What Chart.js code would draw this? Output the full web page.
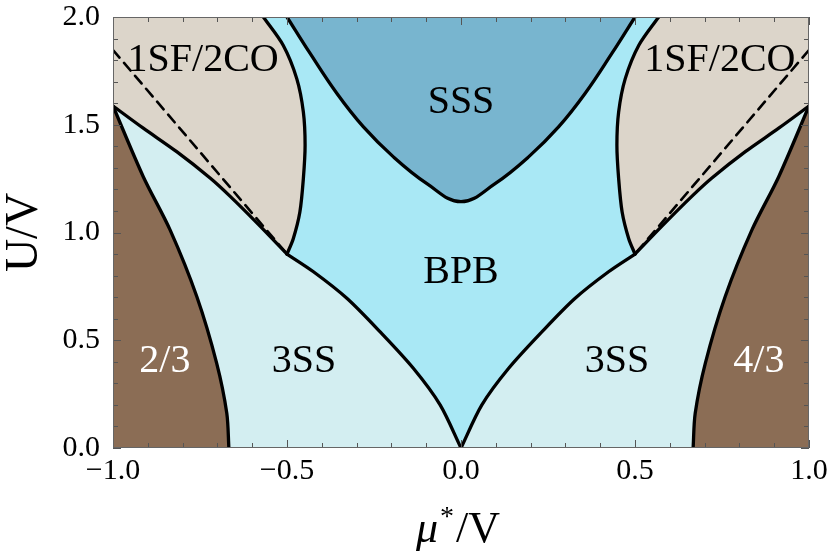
<!DOCTYPE html>
<html>
<head>
<meta charset="utf-8">
<script src="https://cdn.jsdelivr.net/npm/chart.js@4.4.1/dist/chart.umd.min.js"></script>
<style>
  body { margin: 0; background: #fff; }
  canvas { display: block; }
</style>
</head>
<body>
<canvas id="phaseChart" width="830" height="554"></canvas>
<script>
// Axis ticks
const xTicks = [-1.0, -0.5, 0.0, 0.5, 1.0];
const xTickLabels = ["\u22121.0", "\u22120.5", "0.0", "0.5", "1.0"];
const yTicks = [0.0, 0.5, 1.0, 1.5, 2.0];
const yTickLabels = ["0.0", "0.5", "1.0", "1.5", "2.0"];

// Phase boundaries, left half (mu*/V, U/V); diagram is symmetric in mu
// 2/3 solid edge: from the corner down to U = 0
const brownMu = [-1.0, -0.913, -0.836, -0.759, -0.702, -0.673, -0.667];
const brownU = [1.587, 1.259, 1.012, 0.702, 0.393, 0.161, 0.0];
// 3SS / 1SF line: corner to triple point
const edgeMu = [-1.0, -0.913, -0.817, -0.721, -0.664, -0.583, -0.5];
const edgeU = [1.587, 1.484, 1.375, 1.253, 1.169, 1.039, 0.9];
// dashed line
const dashMu = [-1.0, -0.5];
const dashU = [1.847, 0.9];
// 1SF / BPB: triple point up to the top
const sfMu = [-0.5, -0.482, -0.463, -0.453, -0.448, -0.453, -0.472, -0.511, -0.568];
const sfU = [0.9, 0.971, 1.095, 1.25, 1.405, 1.559, 1.714, 1.869, 2.0];
// BPB / 3SS: triple point down to the cusp
const bpbMu = [-0.5, -0.424, -0.328, -0.233, -0.137, -0.06, 0.0];
const bpbU = [0.9, 0.818, 0.695, 0.54, 0.37, 0.2, 0.0];
// SSS: top down to the minimum
const sssMu = [-0.5, -0.434, -0.357, -0.281, -0.195, -0.099, 0.0];
const sssU = [2.0, 1.832, 1.646, 1.491, 1.352, 1.228, 1.143];

// Region names
const regionNames = ["1SF/2CO", "1SF/2CO", "SSS", "BPB", "3SS", "3SS", "2/3", "4/3"];
const regionMu = [-0.741, 0.744, 0.0, 0.0, -0.451, 0.448, -0.851, 0.856];
const regionU = [1.81, 1.81, 1.615, 0.826, 0.413, 0.413, 0.413, 0.413];

const colors = {
  brown: "#8b6d55",
  sf: "#dcd5ca",
  three: "#d3eef1",
  bpb: "#a9e8f5",
  sss: "#78b5cf",
};
const serif = "'Liberation Serif', 'DejaVu Serif', serif";

const pts = (mu, u) => mu.map((m, i) => ({ x: m, y: u[i] }));
const mirror = (p) => p.map((q) => ({ x: -q.x, y: q.y }));

const brownL = pts(brownMu, brownU);
const edgeL = pts(edgeMu, edgeU);
const dashL = pts(dashMu, dashU);
const sfL = pts(sfMu, sfU);
const bpbL = pts(bpbMu, bpbU);
const sssL = pts(sssMu, sssU);

// Closed shapes for the fills
const bpbShape = [
  ...sfL.slice().reverse(),
  ...bpbL.slice(1),
  ...mirror(bpbL).reverse().slice(1),
  ...mirror(sfL).slice(1),
];
const sssShape = [...sssL, ...mirror(sssL).reverse().slice(1)];
const threeShape = [
  { x: edgeMu[0], y: 0 },
  ...edgeL,
  ...bpbL.slice(1),
  ...mirror(bpbL).reverse().slice(1),
  ...mirror(edgeL).reverse().slice(1),
  { x: -edgeMu[0], y: 0 },
];
const brownLShape = [...brownL, { x: brownMu[0], y: 0 }];
const brownRShape = [...mirror(brownL), { x: -brownMu[0], y: 0 }];

const fillSet = (data, color, tension = 0) => ({
  data,
  backgroundColor: color,
  borderWidth: 0,
  fill: "shape",
  tension,
  pointRadius: 0,
});
const strokeSet = (data, dashed, tension = 0.3) => ({
  data,
  borderColor: "#000",
  borderWidth: dashed ? 2.6 : 3.3,
  borderDash: dashed ? [10, 7] : [],
  borderCapStyle: "round",
  borderJoinStyle: "round",
  fill: false,
  tension: dashed ? 0 : tension,
  pointRadius: 0,
});

// Background, frame, inward ticks and texts
const decorations = {
  id: "decorations",
  beforeDraw(chart) {
    const { ctx, chartArea: a } = chart;
    ctx.save();
    ctx.fillStyle = colors.sf;
    ctx.fillRect(a.left, a.top, a.right - a.left, a.bottom - a.top);
    ctx.restore();
  },
  afterDatasetsDraw(chart) {
    const { ctx, chartArea: a, scales } = chart;
    const xs = scales.x;
    const ys = scales.y;
    ctx.save();

    // region labels
    ctx.font = "40px " + serif;
    ctx.textAlign = "center";
    ctx.textBaseline = "alphabetic";
    regionNames.forEach((name, i) => {
      ctx.fillStyle = name === "2/3" || name === "4/3" ? "#fff" : "#000";
      ctx.fillText(name, xs.getPixelForValue(regionMu[i]), ys.getPixelForValue(regionU[i]) + 13);
    });

    // ticks
    ctx.strokeStyle = "#555";
    ctx.lineWidth = 1;
    ctx.beginPath();
    for (let k = 0; k <= 20; k++) {
      const major = k % 5 === 0;
      const len = major ? 8 : 5;
      const px = Math.round(xs.getPixelForValue(-1 + k * 0.1)) + 0.5;
      ctx.moveTo(px, a.bottom); ctx.lineTo(px, a.bottom - len);
      ctx.moveTo(px, a.top); ctx.lineTo(px, a.top + len);
      const py = Math.round(ys.getPixelForValue(k * 0.1)) + 0.5;
      ctx.moveTo(a.left, py); ctx.lineTo(a.left + len, py);
      ctx.moveTo(a.right, py); ctx.lineTo(a.right - len, py);
    }
    ctx.stroke();

    // frame
    ctx.strokeStyle = "#666";
    ctx.strokeRect(a.left + 0.5, a.top + 0.5, a.right - a.left - 1, a.bottom - a.top - 1);

    // axis titles
    ctx.fillStyle = "#000";
    ctx.textAlign = "left";
    const mu = "\u03bc";
    ctx.font = "italic 44px " + serif;
    const wMu = ctx.measureText(mu).width;
    ctx.font = "28px " + serif;
    const wStar = ctx.measureText("*").width;
    ctx.font = "44px " + serif;
    const wRest = ctx.measureText("/V").width;
    let tx = (a.left + a.right) / 2 - 3 - (wMu + wStar + 4 + wRest) / 2;
    const base = 542;
    ctx.font = "italic 44px " + serif;
    ctx.fillText(mu, tx, base);
    tx += wMu + 2;
    ctx.font = "28px " + serif;
    ctx.fillText("*", tx, base - 17);
    tx += wStar + 2;
    ctx.font = "44px " + serif;
    ctx.fillText("/V", tx, base);

    ctx.translate(37, (a.top + a.bottom) / 2);
    ctx.rotate(-Math.PI / 2);
    ctx.textAlign = "center";
    ctx.font = "46px " + serif;
    ctx.fillText("U/V", 0, 0);
    ctx.restore();
  },
};

const ctx = document.getElementById("phaseChart").getContext("2d");
const phaseChart = new Chart(ctx, {
  type: "scatter",
  data: {
    datasets: [
      strokeSet(dashL, true),
      strokeSet(mirror(dashL), true),
      strokeSet(brownL, false),
      strokeSet(mirror(brownL), false),
      strokeSet(edgeL, false),
      strokeSet(mirror(edgeL), false),
      strokeSet(sfL, false),
      strokeSet(mirror(sfL), false),
      strokeSet(bpbL, false),
      strokeSet(mirror(bpbL), false),
      strokeSet(sssShape, false, 0.4),
      fillSet(brownLShape, colors.brown),
      fillSet(brownRShape, colors.brown),
      fillSet(threeShape, colors.three),
      fillSet(sssShape, colors.sss, 0.4),
      fillSet(bpbShape, colors.bpb),
    ],
  },
  options: {
    responsive: false,
    animation: false,
    showLine: true,
    layout: { padding: { top: 17, right: 21, left: 0, bottom: 0 } },
    plugins: {
      legend: { display: false },
      tooltip: { enabled: false },
      filler: { drawTime: "beforeDatasetsDraw" },
    },
    scales: {
      x: {
        type: "linear",
        min: -1,
        max: 1,
        afterFit: (s) => {
          s.height = 106;
          s.paddingLeft = 0;
          s.paddingRight = 0;
        },
        afterBuildTicks: (s) => { s.ticks = xTicks.map((v) => ({ value: v })); },
        ticks: {
          callback: (v, i) => xTickLabels[i],
          font: { family: serif, size: 30 },
          color: "#000",
          padding: 5,
          maxRotation: 0,
          autoSkip: false,
        },
        grid: { display: false, drawTicks: false },
        border: { display: false },
      },
      y: {
        type: "linear",
        min: 0,
        max: 2,
        afterFit: (s) => {
          s.width = 113;
          s.paddingTop = 0;
          s.paddingBottom = 0;
        },
        afterBuildTicks: (s) => { s.ticks = yTicks.map((v) => ({ value: v })); },
        ticks: {
          callback: (v, i) => yTickLabels[i],
          font: { family: serif, size: 30 },
          color: "#000",
          padding: 13,
          autoSkip: false,
        },
        grid: { display: false, drawTicks: false },
        border: { display: false },
      },
    },
  },
  plugins: [decorations],
});
</script>
</body>
</html>
